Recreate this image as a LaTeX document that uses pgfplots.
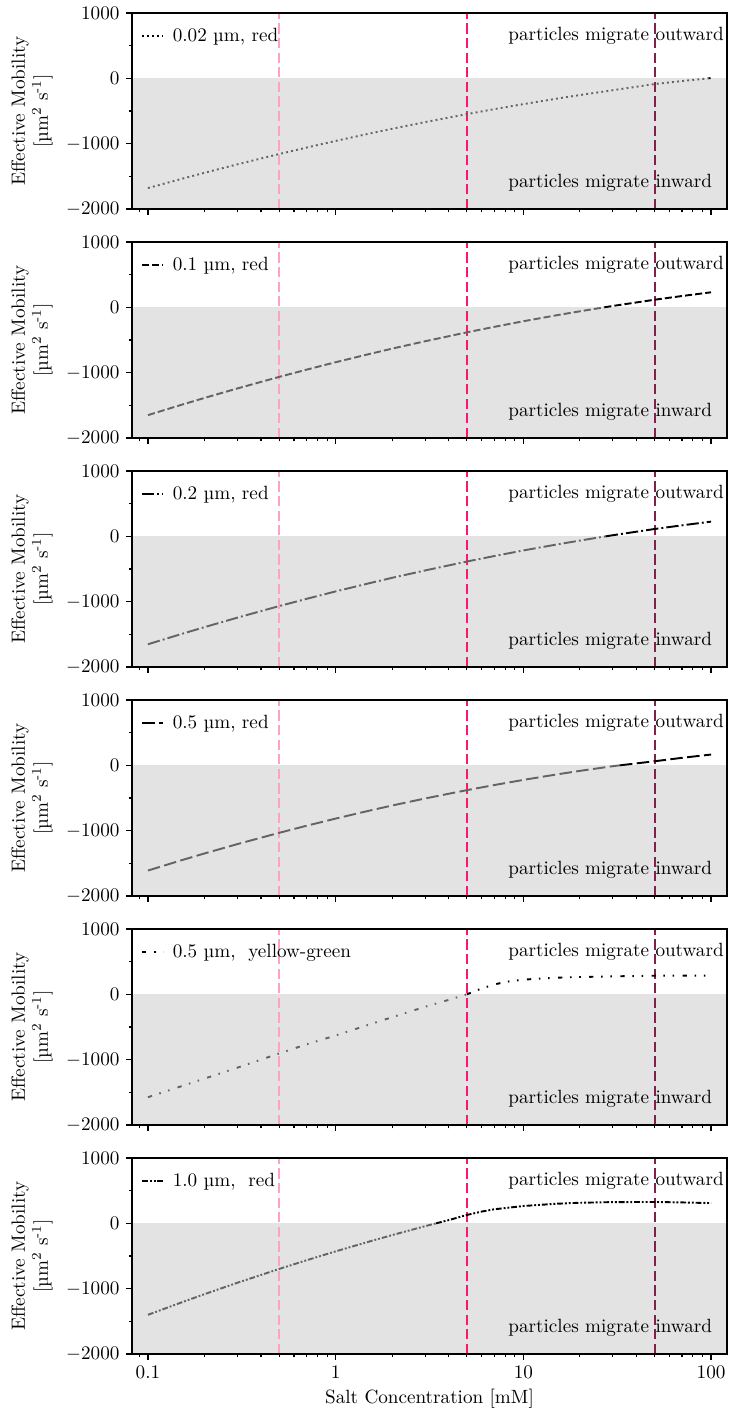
\documentclass[border=0pt]{standalone}
\usepackage{pgfplots}
\pgfplotsset{compat=1.18}

\definecolor{bggray}{RGB}{227,227,227}
\definecolor{curvegray}{RGB}{100,100,100}
\definecolor{vlA}{RGB}{255,160,200}
\definecolor{vlB}{RGB}{255,20,110}
\definecolor{vlC}{RGB}{125,35,75}

\newcommand\background{%
  \addplot[draw=none, fill=bggray, forget plot] coordinates {(0.01,-2000) (1000,-2000) (1000,0) (0.01,0)};
  \addplot[vlA, line width=1.05bp, dash pattern=on 5.3bp off 2.3bp, forget plot] coordinates {(0.5,-2000) (0.5,1000)};
  \addplot[vlB, line width=1.05bp, dash pattern=on 5.3bp off 2.3bp, forget plot] coordinates {(5,-2000) (5,1000)};
  \addplot[vlC, line width=1.05bp, dash pattern=on 5.3bp off 2.3bp, forget plot] coordinates {(50,-2000) (50,1000)};
  \node[anchor=west, inner sep=0pt] at (rel axis cs:0.632,0.883) {particles migrate outward};
  \node[anchor=west, inner sep=0pt] at (rel axis cs:0.632,0.133) {particles migrate inward};
}

\pgfplotsset{
  every axis/.append style={
    width=309.4bp, height=101.92bp, scale only axis,
    xmin=0.0822, xmax=121.6, ymin=-2000, ymax=1000,
    ytick={-2000,-1000,0,1000}, minor y tick num=1,
    xtick pos=left, ytick pos=left,
    tick align=outside,
    major tick length=3bp, minor tick length=1.8bp,
    axis line style={line width=0.8bp},
    scaled y ticks=false,
    yticklabel style={/pgf/number format/1000 sep={}},
    log ticks with fixed point,
    axis on top,
    ylabel={Effective Mobility\\{}[\textmu m\textsuperscript{2} s\textsuperscript{-1}]},
    ylabel style={align=center, at={(axis description cs:-0.122,0.5)}, anchor=south},
    xlabel style={yshift=1.5bp},
    legend style={draw=none, fill=none, at={(axis description cs:0.005,0.883)}, anchor=west},
    legend cell align=left,
  },
  every tick/.append style={black, line width=0.6bp},
  legend image code/.code={\draw[#1] (0bp,0bp) -- (11bp,0bp);},
  curveneg/.style={curvegray, line width=1bp, forget plot},
  curvepos/.style={black, line width=1bp, forget plot},
}

\begin{document}
\begin{tikzpicture}
\useasboundingbox (-68.64bp,-28.08bp) rectangle (309.92bp,704.08bp);

\begin{semilogxaxis}[xticklabels={}, at={(0,595.4bp)}]
\background
\addplot[curveneg, dash pattern=on 1bp off 1.65bp] coordinates {
(0.1,-1680) (0.15,-1541) (0.2,-1446) (0.3,-1316) (0.5,-1159) (0.7,-1060) (1,-958)
(1.5,-848) (2,-772) (3,-670) (5,-548) (7,-472) (10,-395) (15,-312) (20,-256)
(30,-182) (50,-88) (70,-42) (97,0)};
\addplot[curvepos, dash pattern=on 1bp off 1.65bp] coordinates {(97,0) (100,5)};
\addlegendimage{black, line width=1bp, dash pattern=on 1bp off 1.65bp}
\addlegendentry{\hspace{2.5bp}0.02 \textmu m, red}
\end{semilogxaxis}

\begin{semilogxaxis}[xticklabels={}, at={(0,476.32bp)}]
\background
\addplot[curveneg, dash pattern=on 3.7bp off 1.6bp] coordinates {
(0.1,-1650) (0.15,-1494) (0.2,-1387) (0.3,-1241) (0.5,-1065) (0.7,-954) (1,-840)
(1.5,-717) (2,-632) (3,-519) (5,-383) (7,-299) (10,-213) (15,-122) (20,-61) (27,0)};
\addplot[curvepos, dash pattern=on 3.7bp off 1.6bp] coordinates {(27,0) (30,21) (50,116) (70,173) (100,230)};
\addlegendimage{black, line width=1bp, dash pattern=on 3.7bp off 1.6bp}
\addlegendentry{\hspace{2.5bp}0.1 \textmu m, red}
\end{semilogxaxis}

\begin{semilogxaxis}[xticklabels={}, at={(0,357.24bp)}]
\background
\addplot[curveneg, dash pattern=on 6.4bp off 1.6bp on 1bp off 1.6bp] coordinates {
(0.1,-1652) (0.15,-1497) (0.2,-1390) (0.3,-1244) (0.5,-1068) (0.7,-957) (1,-843)
(1.5,-720) (2,-635) (3,-522) (5,-386) (7,-302) (10,-216) (15,-126) (20,-65) (27.5,0)};
\addplot[curvepos, dash pattern=on 6.4bp off 1.6bp on 1bp off 1.6bp] coordinates {(27.5,0) (30,17) (50,112) (70,168) (100,225)};
\addlegendimage{black, line width=1bp, dash pattern=on 6.4bp off 1.6bp on 1bp off 1.6bp}
\addlegendentry{\hspace{2.5bp}0.2 \textmu m, red}
\end{semilogxaxis}

\begin{semilogxaxis}[xticklabels={}, at={(0,238.16bp)}]
\background
\addplot[curveneg, dash pattern=on 6.5bp off 2.3bp] coordinates {
(0.1,-1610) (0.15,-1455) (0.2,-1349) (0.3,-1205) (0.5,-1033) (0.7,-925) (1,-815)
(1.5,-696) (2,-615) (3,-507) (5,-380) (7,-302) (10,-223) (15,-140) (20,-85) (30,-13) (32.7,0)};
\addplot[curvepos, dash pattern=on 6.5bp off 2.3bp] coordinates {(32.7,0) (50,62) (70,115) (100,165)};
\addlegendimage{black, line width=1bp, dash pattern=on 6.5bp off 2.3bp}
\addlegendentry{\hspace{2.5bp}0.5 \textmu m, red}
\end{semilogxaxis}

\begin{semilogxaxis}[xticklabels={}, at={(0,119.08bp)}]
\background
\addplot[curveneg, dash pattern=on 2.2bp off 4bp on 0.8bp off 4bp on 0.8bp off 4.4bp] coordinates {
(0.1,-1575) (0.15,-1408) (0.2,-1290) (0.3,-1122) (0.5,-905) (0.7,-765) (1,-630)
(1.5,-465) (2,-350) (3,-190) (4,-85) (5,0)};
\addplot[curvepos, dash pattern=on 2.2bp off 4bp on 0.8bp off 4bp on 0.8bp off 4.4bp] coordinates {
(5,0) (6,90) (7,150) (8,190) (10,225) (15,255) (20,265) (30,275) (50,285) (70,285) (100,285)};
\addlegendimage{black, line width=1bp, dash pattern=on 2.2bp off 4bp on 0.8bp off 4bp on 0.8bp off 4.4bp}
\addlegendentry{\hspace{2.5bp}0.5 \textmu m,\ \ yellow-green}
\end{semilogxaxis}

\begin{semilogxaxis}[at={(0,0)}, xlabel={Salt Concentration [mM]}]
\background
\addplot[curveneg, dash pattern=on 3bp off 1bp on 1bp off 1bp on 1bp off 1bp] coordinates {
(0.1,-1400) (0.15,-1213) (0.2,-1084) (0.3,-909) (0.5,-698) (0.7,-565) (1,-429)
(1.5,-281) (2,-180) (3,-43) (3.43,0)};
\addplot[curvepos, dash pattern=on 3bp off 1bp on 1bp off 1bp on 1bp off 1bp] coordinates {
(3.43,0) (4,49) (5,128) (6,180) (7,215) (10,265) (15,300) (20,315) (30,325) (50,327) (70,320) (100,310)};
\addlegendimage{black, line width=1bp, dash pattern=on 3bp off 1bp on 1bp off 1bp on 1bp off 1bp}
\addlegendentry{\hspace{2.5bp}1.0 \textmu m,\ \ red}
\end{semilogxaxis}
\end{tikzpicture}
\end{document}
